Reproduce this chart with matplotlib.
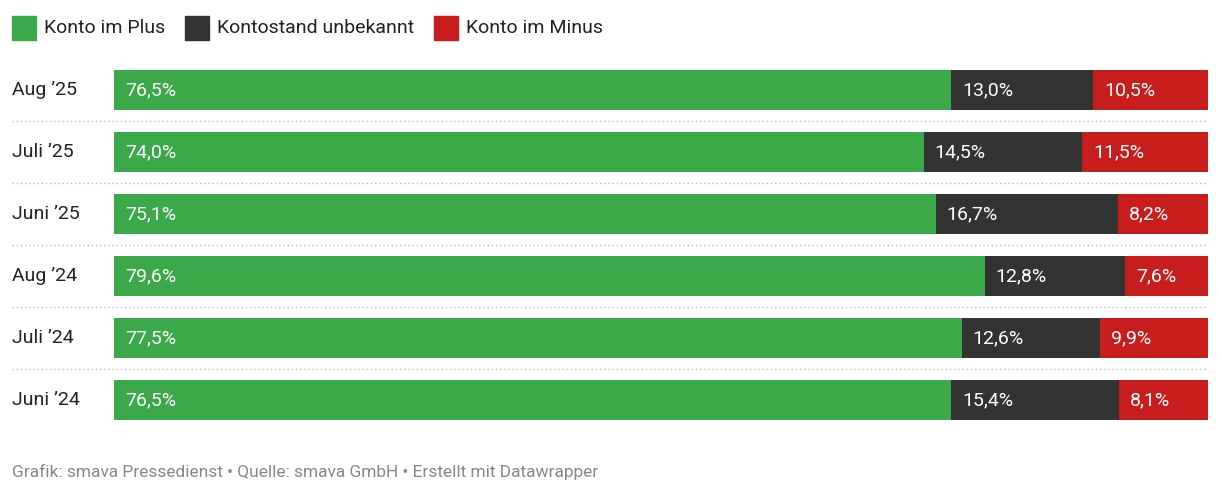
import matplotlib
matplotlib.use("Agg")
import matplotlib.pyplot as plt
from matplotlib.patches import Rectangle

plt.rcParams["font.family"] = "Roboto"

categories = ["Aug ’25", "Juli ’25", "Juni ’25", "Aug ’24", "Juli ’24", "Juni ’24"]
plus = [76.5, 74.0, 75.1, 79.6, 77.5, 76.5]
unknown = [13.0, 14.5, 16.7, 12.8, 12.6, 15.4]
minus = [10.5, 11.5, 8.2, 7.6, 9.9, 8.1]
series_names = ["Konto im Plus", "Kontostand unbekannt", "Konto im Minus"]
colors = ["#3ba84a", "#333333", "#c71e1d"]

W, H = 1220, 496
fig = plt.figure(figsize=(W/100, H/100), dpi=100)
ax = fig.add_axes([114/W, (H-431)/H, (1208-114)/W, 372/H])
ax.set_xlim(0, 100)
ax.set_ylim(5.5, -0.5)
ax.axis("off")

def fmt(v):
    return f"{v:.1f}".replace(".", ",") + "%"

bh = 40/62
for i, cat in enumerate(categories):
    left = 0
    for vals, c in zip([plus, unknown, minus], colors):
        v = vals[i]
        ax.barh(i, v, left=left, height=bh, color=c, linewidth=0)
        ax.text(left + 1.0, i, fmt(v), color="white", va="center", ha="left", fontsize=14)
        left += v
    fig.text(12/W, 1 - (90 + 62*i)/H, cat, fontsize=14, va="center", ha="left", color="#222222")
    if i < len(categories) - 1:
        y = 1 - (121 + 62*i)/H
        fig.add_artist(plt.Line2D([12/W, 1208/W], [y, y], color="#bbbbbb", lw=1, ls=(0, (1, 2))))

# legend
x = 12
for name, c in zip(series_names, colors):
    fig.add_artist(Rectangle((x/W, 1 - 40/H), 24/W, 24/H, color=c, transform=fig.transFigure))
    t = fig.text((x+32)/W, 1 - 28/H, name, fontsize=14, va="center", ha="left", color="#222222")
    fig.canvas.draw()
    bb = t.get_window_extent()
    x = bb.x1 + 20

fig.text(12/W, 1 - 472/H, "Grafik: smava Pressedienst • Quelle: smava GmbH • Erstellt mit Datawrapper",
         fontsize=12.5, color="#888888", va="center", ha="left")

fig.savefig("out.png", dpi=100)
